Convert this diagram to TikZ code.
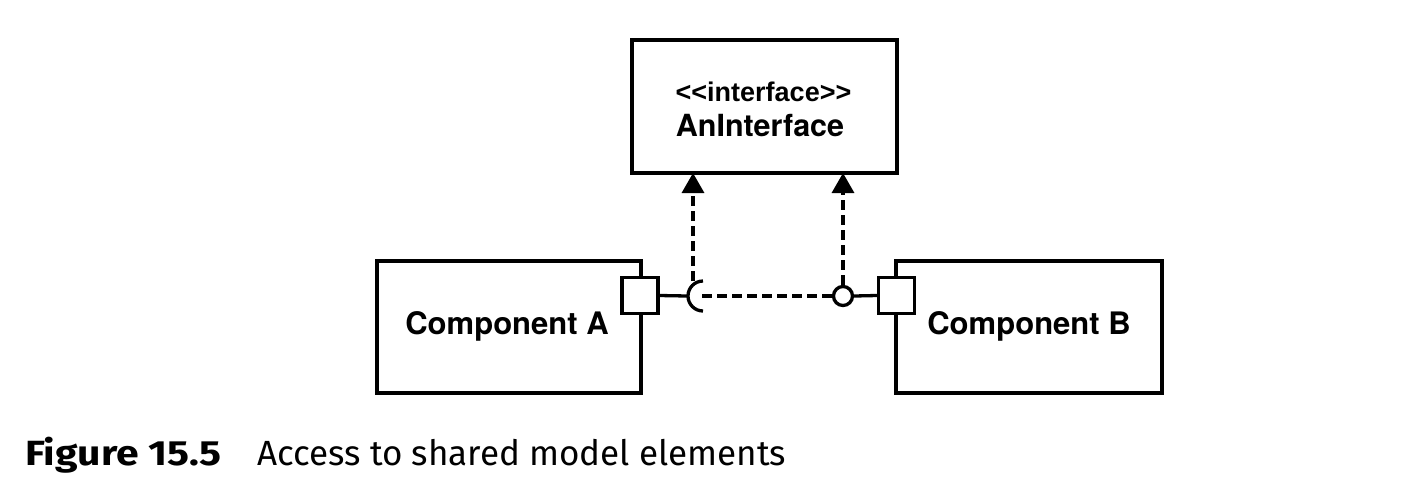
\documentclass[tikz,border=0pt]{standalone}
\usepackage{fontspec}
\setmainfont{TeX Gyre Heros}
\newfontfamily\capfont{Fira Sans}
\newfontfamily\stfont{Liberation Sans}
\usetikzlibrary{arrows.meta}
\tikzset{
  box/.style={draw, line width=3.3pt, fill=white},
  port/.style={draw, line width=3.3pt, fill=white, minimum width=36pt, minimum height=36pt, inner sep=0pt},
  dep/.style={line width=3.3pt, dash pattern=on 10pt off 5pt, -{Triangle[length=20pt,width=22pt]}},
  conn/.style={line width=3.3pt},
  dconn/.style={line width=3.3pt, dash pattern=on 10pt off 5pt},
  lbl/.style={font=\fontsize{31}{36}\selectfont\bfseries},
}
\begin{document}
\begin{tikzpicture}[x=1pt,y=-1pt]
\useasboundingbox (0,0) rectangle (1426,488);
% boxes
\draw[box] (632,40) rectangle (897,173);
\node[font=\stfont\fontsize{27}{31}\selectfont\bfseries, anchor=base] (st) at (763.5,101) {<\kern0pt<interface>\kern0pt>};
\node[lbl, anchor=base, font=\fontsize{30.5}{36}\selectfont\bfseries] (ai) at (760,136) {AnInterface};

\draw[box] (377,261) rectangle (641,393);
\node[lbl] (ca) at (507,326) {Component A};
\draw[box] (896,261) rectangle (1162,393);
\node[lbl] (cb) at (1029,326) {Component B};

% ports
\node[port] (pa) at (640,295.5) {};
\node[port] (pb) at (896.5,295.5) {};

% socket and ball
\coordinate (sock) at (702,296);
\coordinate (sockL) at (687,296);
\coordinate (sockT) at (693,281);
\coordinate (sockB) at (703,311);
\node[draw, circle, line width=3.3pt, fill=white, minimum size=19pt, inner sep=0pt] (ball) at (843,296) {};
\coordinate (top1) at (693,173);
\coordinate (top2) at (843,173);

\draw[conn] (pa.east) -- (sockL);
\draw[dconn] (sock) -- (ball.west);
\draw[conn] (sockB) arc[start angle=90, end angle=270, radius=15];
\draw[conn] (ball.east) -- (pb.west);
\draw[dep] (sockT) -- (top1);
\draw[dep] (ball.north) -- (top2);

% caption
\node[anchor=base west, inner sep=0pt, font=\capfont\fontsize{35}{40}\selectfont\bfseries] (fig) at (25,465) {\scalebox{1.17}[1]{Figure 15.5}};
\node[anchor=base west, inner sep=0pt, font=\capfont\fontsize{35}{40}\selectfont] (cap) at (257,465) {Access to shared model elements};
\end{tikzpicture}
\end{document}
